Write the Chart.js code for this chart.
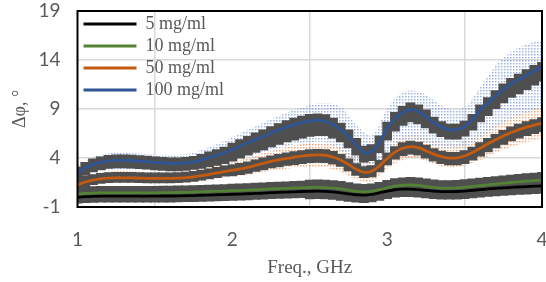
<!DOCTYPE html>
<html>
<head>
<meta charset="utf-8">
<script src="https://cdn.jsdelivr.net/npm/chart.js@4.4.1/dist/chart.umd.min.js"></script>
<style>
  html, body { margin: 0; padding: 0; background: #fff; }
  #wrap { width: 546px; height: 282px; }
</style>
</head>
<body>
<div id="wrap"><canvas id="phase-chart" width="546" height="282"></canvas></div>
<script>
// frequency points (GHz) of the averaged curves / error bars
const FREQ = [1.00,1.05,1.10,1.15,1.20,1.25,1.30,1.35,1.40,1.45,1.50,1.55,1.60,1.65,1.70,1.75,1.80,1.85,1.90,1.95,
  2.00,2.05,2.10,2.15,2.20,2.25,2.30,2.35,2.40,2.45,2.50,2.55,2.60,2.65,2.70,2.75,2.80,2.85,2.90,2.95,
  3.00,3.05,3.10,3.15,3.20,3.25,3.30,3.35,3.40,3.45,3.50,3.55,3.60,3.65,3.70,3.75,3.80,3.85,3.90,3.95,4.00];

const LABELS = ['5 mg/ml', '10 mg/ml', '50 mg/ml', '100 mg/ml'];

// mean phase shift, degrees
const mean5 = [0.0,0.05,0.08,0.1,0.1,0.1,0.1,0.1,0.1,0.1,0.11,0.12,0.12,0.13,0.15,0.17,0.2,0.22,0.25,0.27,
  0.3,0.32,0.35,0.38,0.42,0.46,0.5,0.52,0.55,0.58,0.6,0.62,0.6,0.55,0.45,0.35,0.25,0.22,0.28,0.45,
  0.62,0.76,0.82,0.83,0.78,0.7,0.62,0.57,0.56,0.58,0.63,0.7,0.77,0.84,0.9,0.96,1.0,1.04,1.08,1.12,1.15];
const mean10 = [0.3,0.38,0.42,0.44,0.45,0.45,0.45,0.45,0.45,0.45,0.45,0.46,0.47,0.48,0.5,0.52,0.55,0.58,0.6,0.63,
  0.66,0.69,0.72,0.76,0.8,0.84,0.88,0.91,0.94,0.97,0.99,1.0,0.98,0.93,0.84,0.72,0.6,0.55,0.6,0.75,
  0.95,1.12,1.22,1.25,1.2,1.1,1.0,0.93,0.92,0.95,1.02,1.1,1.18,1.26,1.34,1.42,1.5,1.57,1.63,1.7,1.76];
const mean50 = [1.25,1.55,1.75,1.88,1.95,1.98,1.98,1.97,1.95,1.93,1.92,1.92,1.92,1.95,2.0,2.08,2.2,2.33,2.47,2.62,
  2.75,2.88,3.05,3.25,3.45,3.65,3.8,3.95,4.08,4.2,4.28,4.32,4.28,4.1,3.8,3.35,2.85,2.55,2.65,3.2,
  3.95,4.6,5.0,5.15,5.05,4.75,4.4,4.15,4.0,4.02,4.2,4.55,5.0,5.45,5.85,6.25,6.6,6.9,7.15,7.35,7.55];
const mean100 = [2.5,3.0,3.35,3.55,3.7,3.75,3.75,3.72,3.68,3.62,3.55,3.5,3.45,3.45,3.5,3.6,3.8,4.05,4.3,4.55,
  4.85,5.2,5.55,5.9,6.2,6.55,6.85,7.15,7.4,7.6,7.78,7.85,7.75,7.4,6.9,6.2,5.35,4.55,4.7,5.6,
  7.0,8.0,8.6,8.95,8.75,8.25,7.6,7.15,6.9,6.9,7.2,7.9,8.85,9.6,10.3,11.0,11.55,12.0,12.45,12.9,13.3];

// error bar extents above / below the mean
const up5 = [0.3,0.3,0.3,0.3,0.3,0.3,0.3,0.3,0.3,0.3,0.3,0.3,0.3,0.3,0.3,0.3,0.3,0.3,0.3,0.3,
  0.3,0.3,0.3,0.3,0.3,0.3,0.3,0.3,0.3,0.3,0.3,0.3,0.3,0.3,0.3,0.3,0.3,0.3,0.3,0.3,
  0.3,0.3,0.3,0.3,0.3,0.3,0.3,0.3,0.3,0.3,0.3,0.3,0.3,0.3,0.3,0.3,0.3,0.3,0.3,0.3,0.3];
const down5 = [0.55,0.55,0.55,0.55,0.55,0.55,0.55,0.55,0.55,0.55,0.55,0.55,0.55,0.55,0.55,0.55,0.55,0.55,0.55,0.55,
  0.55,0.55,0.55,0.55,0.55,0.55,0.55,0.55,0.55,0.55,0.7,0.7,0.7,0.7,0.7,0.7,0.7,0.7,0.7,0.7,
  0.7,0.7,0.7,0.7,0.7,0.7,0.7,0.7,0.7,0.7,0.7,0.7,0.7,0.7,0.7,0.7,0.7,0.7,0.7,0.7,0.7];
const up10 = [0.6,0.6,0.6,0.6,0.6,0.6,0.6,0.6,0.6,0.6,0.6,0.6,0.6,0.6,0.6,0.6,0.6,0.6,0.6,0.6,
  0.6,0.6,0.6,0.6,0.6,0.6,0.6,0.6,0.6,0.6,0.7,0.7,0.7,0.7,0.7,0.7,0.7,0.7,0.7,0.7,
  0.7,0.7,0.7,0.7,0.7,0.7,0.7,0.7,0.7,0.7,0.7,0.7,0.7,0.7,0.7,0.7,0.7,0.7,0.7,0.7,0.7];
const down10 = [0.3,0.3,0.3,0.3,0.3,0.3,0.3,0.3,0.3,0.3,0.3,0.3,0.3,0.3,0.3,0.3,0.3,0.3,0.3,0.3,
  0.3,0.3,0.3,0.3,0.3,0.3,0.3,0.3,0.3,0.3,0.3,0.3,0.3,0.3,0.3,0.3,0.3,0.3,0.3,0.3,
  0.3,0.3,0.3,0.3,0.3,0.3,0.3,0.3,0.3,0.3,0.3,0.3,0.3,0.3,0.3,0.3,0.3,0.3,0.3,0.3,0.3];
const up50 = [0.5,0.5,0.5,0.5,0.5,0.5,0.5,0.5,0.5,0.5,0.5,0.5,0.5,0.5,0.5,0.5,0.5,0.5,0.5,0.5,
  0.5,0.5,0.5,0.5,0.5,0.5,0.5,0.5,0.5,0.5,0.5,0.5,0.5,0.5,0.5,0.5,0.5,0.5,0.5,0.5,
  0.5,0.5,0.5,0.5,0.5,0.5,0.5,0.5,0.5,0.5,0.5,0.5,0.5,0.5,0.5,0.5,0.5,0.5,0.5,0.5,0.5];
const down50 = [0.4,0.4,0.4,0.4,0.4,0.4,0.4,0.4,0.4,0.4,0.4,0.4,0.4,0.4,0.4,0.4,0.4,0.4,0.4,0.4,
  0.5,0.5,0.55,0.55,0.6,0.6,0.65,0.65,0.7,0.7,0.7,0.7,0.7,0.65,0.6,0.6,0.55,0.5,0.5,0.55,
  0.6,0.65,0.7,0.7,0.7,0.7,0.65,0.65,0.65,0.65,0.7,0.7,0.75,0.75,0.75,0.8,0.8,0.8,0.8,0.8,0.8];
const up100 = [0.5,0.5,0.5,0.5,0.5,0.5,0.5,0.5,0.5,0.5,0.5,0.5,0.5,0.5,0.5,0.5,0.5,0.5,0.5,0.5,
  0.6,0.6,0.6,0.6,0.6,0.6,0.6,0.6,0.6,0.6,0.6,0.6,0.6,0.6,0.6,0.6,0.6,0.6,0.6,0.6,
  0.6,0.6,0.6,0.6,0.6,0.6,0.5,0.5,0.5,0.5,0.5,0.5,0.5,0.5,0.5,0.5,0.5,0.5,0.5,0.5,0.4];
const down100 = [0.7,0.7,0.7,0.7,0.7,0.7,0.7,0.7,0.7,0.7,0.7,0.7,0.7,0.7,0.7,0.7,0.8,0.9,1.0,1.05,
  1.1,1.15,1.2,1.25,1.3,1.35,1.4,1.45,1.5,1.5,1.5,1.5,1.4,1.3,1.2,1.1,1.0,0.9,0.9,1.0,
  1.1,1.2,1.2,1.2,1.2,1.1,1.0,0.9,0.9,0.9,0.9,1.0,1.1,1.2,1.2,1.3,1.3,1.4,1.4,1.4,1.4];

// spread of the individual measurements (light dotted clouds)
const DOT_FREQ = [1.0,1.1,1.2,1.3,1.4,1.5,1.6,1.7,1.8,1.9,2.0,2.1,2.2,2.3,2.4,2.5,2.6,2.7,2.8,2.9,
  3.0,3.1,3.2,3.3,3.4,3.5,3.6,3.7,3.8,3.9,4.0];
const dotHi100 = [3.2,4.1,4.45,4.5,4.45,4.35,4.3,4.4,4.8,5.4,6.1,6.9,7.6,8.3,8.9,9.4,9.6,9.2,7.4,6.3,
  9.0,10.7,10.8,9.9,9.0,9.2,11.2,13.4,14.8,15.6,16.1];
const dotLo100 = [1.9,2.6,2.8,2.85,2.8,2.7,2.65,2.7,2.95,3.3,3.7,4.2,4.6,5.0,5.4,5.6,5.6,4.8,3.4,3.0,
  4.7,5.8,5.8,5.2,5.0,5.2,6.0,7.1,8.0,8.6,9.1];
const dotHi50 = [1.9,2.4,2.6,2.65,2.6,2.55,2.55,2.65,2.9,3.3,3.6,4.0,4.5,4.9,5.3,5.5,5.5,5.1,4.0,3.6,
  5.0,6.2,6.3,5.8,5.4,5.7,6.6,7.4,8.2,8.8,9.3];
const dotLo50 = [0.9,1.4,1.5,1.5,1.5,1.45,1.45,1.5,1.65,1.9,2.1,2.3,2.6,2.8,3.0,3.1,3.0,2.6,1.8,1.6,
  2.9,3.8,3.9,3.4,3.0,3.2,3.8,4.5,5.1,5.6,6.0];

const lineColors = ['#000000', '#548235', '#c55a11', '#2f5597'];
const means = [mean5, mean10, mean50, mean100];
const ups = [up5, up10, up50, up100];
const downs = [down5, down10, down50, down100];

function dotPattern(color) {
  let tile = document.createElement('canvas');
  tile.width = 3;
  tile.height = 3;
  let g = tile.getContext('2d');
  g.fillStyle = color;
  g.fillRect(0, 0, 1.5, 1.5);
  return g.createPattern(tile, 'repeat');
}

function pts(xs, ys) {
  return xs.map((x, i) => ({ x: x, y: ys[i] }));
}

let datasets = [];

// mean curves (on top)
means.forEach(function(m, k) {
  datasets.push({
    type: 'line',
    label: LABELS[k],
    data: pts(FREQ, m),
    borderColor: lineColors[k],
    backgroundColor: lineColors[k],
    borderWidth: 2.8,
    pointRadius: 0,
    tension: 0.35,
    fill: false,
    order: 1
  });
});

// error bars as floating bars
means.forEach(function(m, k) {
  datasets.push({
    type: 'bar',
    data: FREQ.map((f, i) => ({ x: f, y: [m[i] - downs[k][i], m[i] + ups[k][i]] })),
    backgroundColor: '#4f4f4f',
    borderWidth: 0,
    inflateAmount: 1,
    grouped: false,
    categoryPercentage: 1,
    barPercentage: 1,
    order: 2
  });
});

// dotted clouds
[[dotHi100, dotLo100, 'rgba(143,170,220,0.9)'], [dotHi50, dotLo50, 'rgba(236,145,85,0.8)']].forEach(function(d) {
  datasets.push({
    type: 'line',
    data: pts(DOT_FREQ, d[0]),
    borderWidth: 0,
    pointRadius: 0,
    tension: 0.35,
    backgroundColor: dotPattern(d[2]),
    fill: '+1',
    order: 3
  });
  datasets.push({
    type: 'line',
    data: pts(DOT_FREQ, d[1]),
    borderWidth: 0,
    pointRadius: 0,
    tension: 0.35,
    fill: false,
    order: 3
  });
});

// black frame round the plot area
const frame = {
  id: 'frame',
  afterDraw(chart) {
    const { ctx, chartArea: a } = chart;
    ctx.save();
    ctx.strokeStyle = '#000';
    ctx.lineWidth = 2;
    ctx.strokeRect(a.left, a.top, a.right - a.left, a.bottom - a.top);
    ctx.restore();
  }
};

// keep the legend pinned to the top-left corner of the plot area
const pinLegend = {
  id: 'pinLegend',
  afterLayout(chart) {
    const lg = chart.legend;
    if (!lg) return;
    const h = lg.height;
    lg.left = chart.chartArea.left + 2;
    lg.right = lg.left + lg.width;
    lg.top = chart.chartArea.top;
    lg.bottom = lg.top + h;
  }
};

const grey = '#595959';

let phaseChart = new Chart(document.querySelector('#phase-chart').getContext('2d'), {
  type: 'line',
  data: { datasets: datasets },
  options: {
    responsive: false,
    animation: false,
    devicePixelRatio: 1,
    layout: { padding: { top: 11, right: 4, bottom: 0, left: 0 } },
    scales: {
      x: {
        type: 'linear',
        min: 1,
        max: 4,
        offset: false,
        ticks: { stepSize: 1, color: grey, font: { family: 'Lato', size: 19 }, padding: 21, maxRotation: 0 },
        grid: { color: '#d9d9d9', lineWidth: 1.5, drawTicks: false },
        border: { display: false },
        title: { display: true, text: 'Freq., GHz', color: grey, font: { family: 'Liberation Serif', size: 19 }, padding: { top: 0, bottom: 3 } },
        afterFit(scale) {
          scale.height = 75;
          scale.paddingLeft = 0;
          scale.paddingRight = 0;
        }
      },
      y: {
        min: -1,
        max: 19,
        ticks: { stepSize: 5, color: grey, font: { family: 'Lato', size: 19 }, padding: 17 },
        grid: { color: '#d9d9d9', lineWidth: 1.5, drawTicks: false },
        border: { display: false },
        title: { display: true, text: 'Δφ, °', color: grey, font: { family: 'Liberation Serif', size: 18 }, padding: { top: 9, bottom: 0 } },
        afterFit(scale) {
          scale.width = 77.5;
          scale.paddingTop = 0;
          scale.paddingBottom = 0;
        }
      }
    },
    plugins: {
      tooltip: { enabled: false },
      legend: {
        position: 'chartArea',
        align: 'start',
        labels: {
          boxWidth: 53,
          boxHeight: 3,
          padding: 4,
          color: grey,
          font: { family: 'Liberation Serif', size: 18, lineHeight: 1 },
          generateLabels(chart) {
            return Chart.defaults.plugins.legend.labels.generateLabels(chart)
              .filter(it => it.text)
              .map(it => Object.assign(it, { lineWidth: 0, fillStyle: it.strokeStyle }));
          }
        }
      }
    }
  },
  plugins: [frame, pinLegend]
});
</script>
</body>
</html>
